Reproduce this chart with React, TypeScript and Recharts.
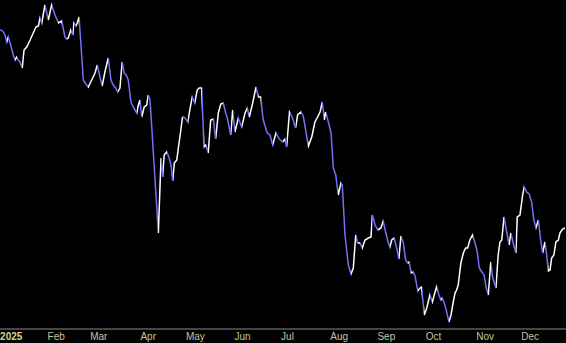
import { LineChart, Line, XAxis, YAxis } from 'recharts';

// trading-day index since late Dec 2024
const days = [
  0, 1.2, 2.2, 3.0, 3.7, 4.5, 5.9, 6.7, 7.4, 8.1, 8.9, 9.9, 10.7, 11.9, 13.4, 14.8, 16.0, 17.1, 17.8, 18.6,
  20.0, 21.5, 23.0, 24.5, 26.0, 27.5, 28.9, 29.7, 30.4, 31.5, 32.4, 32.9, 33.8, 34.4, 35.2, 37.1, 38.6, 39.3,
  40.4, 42.3, 43.3, 44.5,
  45.5, 46.7, 48.2, 49.4, 50.4, 51.5, 52.4, 53.4, 54.4, 55.3, 56.4, 57.1, 58.3, 59.3, 60.1, 60.9, 61.6, 62.3,
  63.1, 64.2, 65.3, 66.0, 66.8, 70.5, 71.7, 72.4, 73.1, 74.2, 75.2, 76.1, 76.9, 77.6, 78.7, 79.4, 80.1, 81.2,
  81.6, 82.4, 83.6, 84.5, 85.6, 86.7, 87.8, 88.7, 89.8,
  90.8, 91.7, 92.7, 93.8, 95.0, 96.0, 97.2, 98.3, 99.4, 100.5, 101.2, 102.7, 103.6, 104.6, 106.1, 107.6, 109.1,
  110.1, 111.0, 112.5, 114.0, 115.0, 116.1, 117.0, 117.5, 119.0, 120.2, 121.4, 122.9, 124.3, 125.9, 126.9,
  127.6, 128.9,
  130.1, 131.6, 132.5, 134.0, 135.0, 136.1, 137.3, 138.8, 140.2, 141.4, 142.5, 143.5, 144.4, 145.0, 146.2,
  147.4, 148.4, 149.5, 150.6, 151.8, 152.4, 153.6, 155.1, 156.3, 157.3, 158.4, 159.2, 160.3, 161.3, 162.5,
  164.0, 165.2, 165.8, 167.0,
  168.2, 169.6, 170.6, 171.7, 172.9, 173.6, 174.4, 175.5, 176.6, 177.6, 178.5, 179.6, 180.6, 181.5, 182.2,
  183.0, 184.0, 184.8, 186.0, 187.0, 187.7, 188.9, 190.0, 191.4, 192.5, 193.7, 194.4, 195.4, 196.3, 196.9,
  197.8, 198.9, 199.9, 200.8, 201.8, 202.6, 203.3, 204.0, 205.2, 206.3, 207.3, 208.2, 209.2, 210.4,
  211.5, 212.5, 213.4, 214.5, 215.5, 216.4, 217.4, 218.5, 219.3, 220.8, 221.8, 222.6, 223.4, 224.4, 225.6,
  226.7, 227.4, 228.5, 229.7, 230.3, 231.5, 232.7, 233.4, 234.5, 235.6, 236.7, 237.7, 238.6, 239.7, 240.7,
  241.6, 242.6, 243.4, 244.1, 244.9, 245.6, 246.6, 247.5, 248.6, 249.3, 250.5, 251.5,
];

const prices = [
  77.0, 76.9, 76.5, 75.8, 76.3, 75.7, 74.5, 74.0, 74.3, 74.0, 73.8, 73.2, 75.0, 75.3, 76.0, 76.7, 77.3, 77.4, 78.2, 77.7,
  79.5, 78.0, 79.5, 78.5, 77.7, 77.9, 76.3, 76.1, 76.2, 77.0, 76.5, 77.7, 77.4, 77.7, 78.3, 72.0, 71.5, 71.3,
  71.8, 72.7, 73.5, 72.3,
  71.4, 72.8, 74.2, 72.0, 71.5, 71.2, 70.8, 71.2, 73.8, 72.7, 72.4, 72.0, 69.8, 69.3, 69.0, 68.7, 69.5, 70.0,
  68.3, 69.3, 69.5, 70.5, 70.0, 56.7, 64.2, 62.3, 64.5, 64.8, 64.3, 63.5, 61.9, 63.7, 64.0, 65.2, 66.3, 68.2,
  68.3, 68.2, 67.8, 69.0, 70.3, 69.7, 71.0, 71.2, 71.2,
  65.3, 65.5, 64.7, 68.0, 68.1, 66.1, 68.7, 69.6, 69.7, 68.7, 68.2, 66.5, 69.0, 66.8, 68.2, 67.3, 68.7,
  69.2, 68.3, 69.7, 71.3, 70.3, 70.3, 68.3, 67.8, 66.7, 66.5, 65.5, 66.7, 66.1, 65.8, 66.1,
  65.3, 68.8,
  68.3, 67.2, 68.5, 68.8, 68.4, 67.0, 65.4, 66.3, 67.8, 68.3, 68.8, 69.8, 68.0, 68.8, 67.8,
  66.7, 63.2, 62.5, 60.5, 61.7, 61.5, 56.5, 53.5, 52.6, 53.2, 56.5, 55.7, 55.7, 55.2, 56.0,
  56.2, 56.3, 58.5, 57.5,
  57.0, 57.2, 57.9, 56.8, 55.7, 55.3, 56.0, 56.2, 55.2, 54.1, 56.4, 55.7, 54.0, 53.7, 53.8,
  52.7, 52.8, 52.4, 50.9, 51.2, 51.3, 48.5, 49.2, 50.5, 49.8, 50.8, 51.3, 50.5, 50.0, 50.2,
  49.7, 48.8, 47.8, 48.5, 49.8, 50.7, 51.0, 51.5, 53.7, 54.7, 55.2, 55.2, 56.0, 56.5,
  55.7, 54.8, 53.2, 52.8, 52.5, 51.3, 50.5, 53.8, 52.3, 51.2, 54.5, 55.8, 56.0, 58.3, 56.8,
  55.5, 56.7, 55.7, 54.7, 58.3, 58.5, 60.5, 61.3, 60.8, 60.6, 59.8, 58.0, 57.2, 58.0, 56.0,
  54.7, 55.8, 54.5, 52.9, 53.0, 54.2, 54.5, 55.8, 56.0, 56.7, 57.1, 57.2,
];

const monthTicks = [5, 25, 44, 66, 87, 108, 128, 151, 172, 193, 216, 236];
const monthLabels = ['2025', 'Feb', 'Mar', 'Apr', 'May', 'Jun', 'Jul', 'Aug', 'Sep', 'Oct', 'Nov', 'Dec'];

const UP = '#ffffff';
const DOWN = '#7272f6';

const data = days.map((day, i) => ({ day, price: prices[i] }));

// hard-stop gradient: white on rising segments, blue on falling ones
function segmentStops() {
  const first = days[0];
  const span = days[days.length - 1] - first;
  const stops: JSX.Element[] = [];
  for (let i = 0; i < days.length - 1; i++) {
    const color = prices[i + 1] >= prices[i] ? UP : DOWN;
    const a = (days[i] - first) / span;
    const b = (days[i + 1] - first) / span;
    stops.push(<stop key={`a${i}`} offset={a} stopColor={color} />);
    stops.push(<stop key={`b${i}`} offset={b} stopColor={color} />);
  }
  return stops;
}

const MonthTick = (props: any) => {
  const { x, y, payload } = props;
  const idx = monthTicks.indexOf(payload.value);
  const isYear = idx === 0;
  return (
    <text
      x={x}
      y={y}
      dy="0.71em"
      textAnchor="middle"
      fontFamily="'Liberation Sans', Arial, sans-serif"
      fontSize={10}
      fontWeight={isYear ? 'bold' : 'normal'}
      fill={isYear ? '#d6d68e' : '#c4c49c'}
    >
      {monthLabels[idx]}
    </text>
  );
};

export default function App() {
  return (
    <div style={{ position: 'fixed', left: 0, top: 0, width: 566, height: 343, background: '#000' }}>
      <LineChart width={566} height={343} data={data} margin={{ top: 0, right: 0, bottom: 0, left: 0 }}>
        <defs>
          <linearGradient id="upDown" x1="0" y1="0" x2="1" y2="0">
            {segmentStops()}
          </linearGradient>
        </defs>
        <XAxis
          dataKey="day"
          type="number"
          domain={[0, 252]}
          ticks={monthTicks}
          interval={0}
          height={14}
          tickLine={false}
          tickSize={2}
          tickMargin={2}
          axisLine={{ stroke: '#8a8a8a' }}
          tick={MonthTick}
        />
        <YAxis hide domain={[47.1, 80]} />
        <Line
          type="linear"
          dataKey="price"
          stroke="url(#upDown)"
          strokeWidth={1.5}
          dot={false}
          activeDot={false}
          isAnimationActive={false}
        />
      </LineChart>
    </div>
  );
}
